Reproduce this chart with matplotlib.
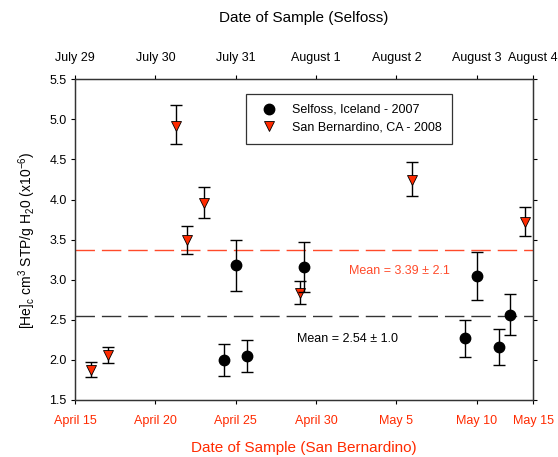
import matplotlib
matplotlib.use("Agg")
import matplotlib.pyplot as plt
from matplotlib.lines import Line2D

plt.rcParams['font.family'] = ['Liberation Sans', 'DejaVu Sans']
plt.rcParams['mathtext.default'] = 'regular'

# San Bernardino 2008 (days since April 15)
sb_day = [1.0, 2.03, 6.28, 7.0, 8.0, 14.0, 21.0, 28.0]
sb_val = [1.87, 2.06, 4.92, 3.50, 3.96, 2.83, 4.25, 3.72]
sb_lo = [1.79, 1.96, 4.69, 3.32, 3.77, 2.70, 4.05, 3.55]
sb_hi = [1.97, 2.16, 5.18, 3.67, 4.16, 2.98, 4.47, 3.91]

# Selfoss 2007 (days since July 29)
sf_day = [1.86, 2.00, 2.14, 2.85, 4.85, 5.00, 5.28, 5.42]
sf_val = [2.00, 3.18, 2.05, 3.16, 2.27, 3.05, 2.16, 2.56]
sf_lo = [1.80, 2.86, 1.85, 2.85, 2.04, 2.75, 1.94, 2.31]
sf_hi = [2.20, 3.49, 2.25, 3.47, 2.50, 3.35, 2.38, 2.82]

sb_mean = 3.37
sf_mean = 2.55

bottom_ticks = [0, 5, 10, 15, 20, 25, 28.52]
bottom_labels = ['April 15', 'April 20', 'April 25', 'April 30', 'May 5', 'May 10', 'May 15']
top_ticks = [0, 1, 2, 3, 4, 5, 5.704]
top_labels = ['July 29', 'July 30', 'July 31', 'August 1', 'August 2', 'August 3', 'August 4']
yticks = [1.5, 2.0, 2.5, 3.0, 3.5, 4.0, 4.5, 5.0, 5.5]

RED = '#ff2a00'
LRED = '#ff4a2a'

fig = plt.figure(figsize=(5.58, 4.57), dpi=100)
ax = fig.add_axes([75/558, 1-400/457, (533.3-75)/558, (400-79.3)/457])
ax.set_xlim(0, 28.52)
ax.set_ylim(1.5, 5.5)
ax2 = ax.twiny()
ax2.set_xlim(0, 5.704)

fs = 9
ax.set_xticks(bottom_ticks)
ax.set_xticklabels(bottom_labels, color=RED, fontsize=fs)
ax.set_yticks(yticks)
ax.set_yticklabels(['%.1f' % v for v in yticks], fontsize=fs)
ax.tick_params(axis='both', direction='out', length=3, width=0.8)
ax.tick_params(axis='y', right=True, pad=3)
ax.tick_params(axis='x', pad=8)
ax2.set_xticks(top_ticks)
ax2.set_xticklabels(top_labels, fontsize=fs)
ax2.tick_params(axis='x', direction='out', length=3, width=0.8, pad=8)
for a in (ax, ax2):
    for s in a.spines.values():
        s.set_linewidth(0.9)
        s.set_color('#333333')

ax.axhline(sb_mean, color=LRED, lw=1.0, dashes=(14, 5))
ax.axhline(sf_mean, color='#333333', lw=1.0, dashes=(14, 5))

ax.errorbar(sb_day, sb_val,
            yerr=[[v - l for v, l in zip(sb_val, sb_lo)], [h - v for v, h in zip(sb_val, sb_hi)]],
            fmt='none', ecolor='black', elinewidth=1.0, capsize=4.5, capthick=1.0, zorder=3)
ax.plot(sb_day, sb_val, linestyle='none', marker='v', markersize=7.5,
        markerfacecolor=RED, markeredgecolor='black', markeredgewidth=0.6, zorder=4)

ax2.errorbar(sf_day, sf_val,
             yerr=[[v - l for v, l in zip(sf_val, sf_lo)], [h - v for v, h in zip(sf_val, sf_hi)]],
             fmt='none', ecolor='black', elinewidth=1.0, capsize=4.5, capthick=1.0, zorder=3)
ax2.plot(sf_day, sf_val, linestyle='none', marker='o', markersize=7.5,
         markerfacecolor='black', markeredgecolor='black', zorder=4)

ax.text(17.05, 3.11, 'Mean = 3.39 ± 2.1', color=LRED, fontsize=fs, va='center', ha='left')
ax.text(13.8, 2.26, 'Mean = 2.54 ± 1.0', color='black', fontsize=fs, va='center', ha='left')

# legend
h1 = Line2D([], [], linestyle='none', marker='o', markersize=7.5, markerfacecolor='black', markeredgecolor='black')
h2 = Line2D([], [], linestyle='none', marker='v', markersize=7.5, markerfacecolor=RED,
            markeredgecolor='black', markeredgewidth=0.6)
leg = ax.legend([h1, h2], ['Selfoss, Iceland - 2007', 'San Bernardino, CA - 2008'],
                loc='upper left', bbox_to_anchor=((246-75)/458.3, 1-(94-79.3)/320.7),
                fontsize=fs, frameon=True, fancybox=False, borderpad=0.8,
                handlelength=2.0, handletextpad=0.9, labelspacing=0.45, borderaxespad=0)
leg.get_frame().set_edgecolor('black')
leg.get_frame().set_linewidth(0.9)

fig.text(304/558, 1-18/457, 'Date of Sample (Selfoss)', ha='center', va='center', fontsize=11)
fig.text(304/558, 1-448/457, 'Date of Sample (San Bernardino)', ha='center', va='center',
         fontsize=11, color=RED)
fig.text(27/558, 1-240/457, '[He]$_c$ cm$^3$ STP/g H$_2$0 (x10$^{-6}$)', ha='center', va='center',
         rotation=90, fontsize=10)

fig.savefig('out.png', dpi=100)
